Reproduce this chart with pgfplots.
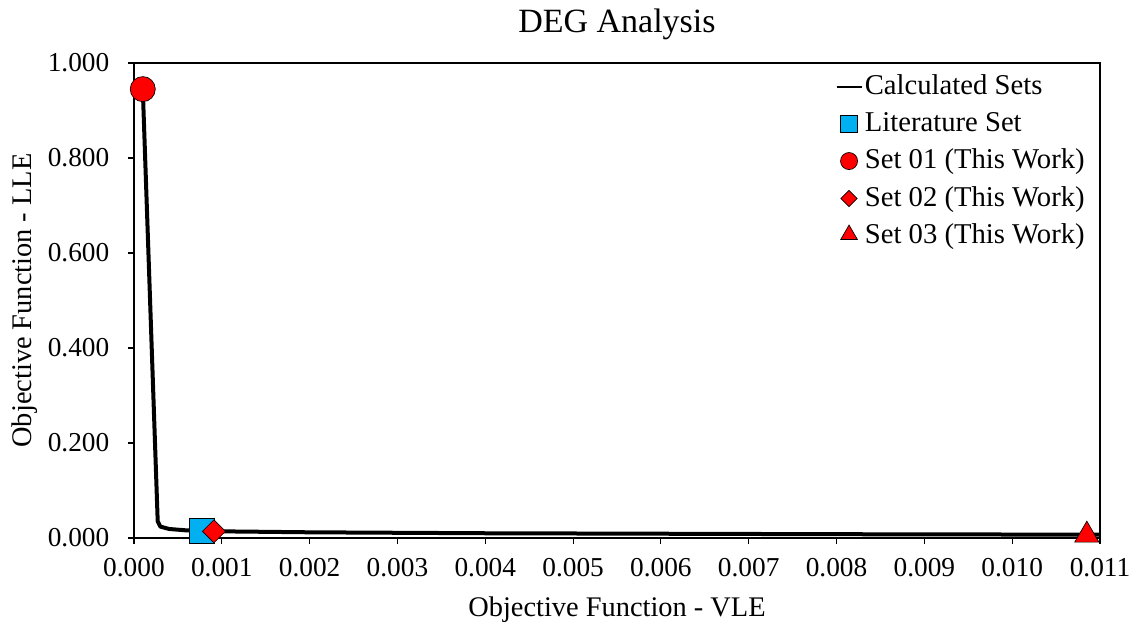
\documentclass[border=0pt]{standalone}
\usepackage{pgfplots}
\pgfplotsset{compat=1.18}
\usepackage{fontspec}
\setmainfont{Liberation Serif}
\definecolor{litblue}{HTML}{00B0F0}
\begin{document}
\fontsize{20.5}{24}\selectfont
\begin{tikzpicture}
\begin{axis}[
  name=ax,
  scale only axis,
  width=724.5pt, height=356.25pt,
  xmin=0, xmax=0.011, ymin=0, ymax=1.0,
  xtick={0,0.001,...,0.0115}, ytick={0,0.2,...,1.01},
  /pgf/number format/assume math mode=true,
  xticklabel style={/pgf/number format/.cd,fixed,fixed zerofill,precision=3, /tikz/.cd, yshift=-4pt, font=\fontsize{20.5}{24}\selectfont},
  yticklabel style={/pgf/number format/.cd,fixed,fixed zerofill,precision=3, /tikz/.cd, xshift=-7pt, font=\fontsize{20.5}{24}\selectfont},
  scaled x ticks=false, scaled y ticks=false,
  tick align=outside, xtick pos=left, ytick pos=left,
  major tick length=4.5pt,
  axis line style={line width=0.8pt},
  every tick/.style={line width=0.8pt, black},
  title={DEG Analysis},
  title style={yshift=4pt, font=\fontsize{25.5}{30}\selectfont},
  xlabel={Objective Function - VLE},
  ylabel={Objective Function - LLE},
  xlabel style={yshift=-1pt, font=\fontsize{21.3}{25}\selectfont},
  ylabel style={yshift=-6pt, font=\fontsize{21.3}{25}\selectfont},
  legend style={draw=none, fill=none, at={(0.9865,0.978)}, anchor=north east, row sep=8.1pt, font=\fontsize{21.5}{25}\selectfont, inner sep=0pt, nodes={inner xsep=1.5pt, inner ysep=1pt}},
  legend cell align=left,
  clip=false,
]
\addplot[black, line width=3pt, line join=round, mark=none,
  legend image code/.code={\draw[black,line width=2pt] (0pt,0pt) -- (18.75pt,0pt);}]
  coordinates {
  (0.00010,0.945) (0.00027,0.035) (0.00030,0.024) (0.00040,0.019)
  (0.00060,0.016) (0.00100,0.014) (0.00200,0.012) (0.00400,0.010) (0.00600,0.009)
  (0.00800,0.008) (0.01100,0.007)
  };
\addlegendentry{Calculated Sets}
\addplot[only marks, mark=square*, mark size=9.4pt, mark options={fill=litblue, draw=black, line width=0.5pt},
  legend image code/.code={\draw[mark=square*, mark size=6.2pt, mark options={fill=litblue, draw=black, line width=0.5pt}] plot coordinates {(9.4pt,0pt)};}]
  coordinates {(0.00077,0.016)};
\addlegendentry{Literature Set}
\addplot[only marks, mark=*, mark size=9.4pt, mark options={fill=red, draw=black, line width=0.5pt},
  legend image code/.code={\draw[mark=*, mark size=6.4pt, mark options={fill=red, draw=black, line width=0.5pt}] plot coordinates {(9.4pt,0pt)};}]
  coordinates {(0.00010,0.945)};
\addlegendentry{Set 01 (This Work)}
\addplot[only marks, mark=square*, mark size=6.1pt, mark options={fill=red, draw=black, line width=0.5pt, rotate=45},
  legend image code/.code={\draw[mark=square*, mark size=4.3pt, mark options={fill=red, draw=black, line width=0.5pt, rotate=45}] plot coordinates {(9.4pt,0pt)};}]
  coordinates {(0.00091,0.014)};
\addlegendentry{Set 02 (This Work)}
\addplot[only marks, mark=triangle*, mark size=10.5pt, mark options={fill=red, draw=black, line width=0.5pt},
  legend image code/.code={\draw[mark=triangle*, mark size=7.2pt, mark options={fill=red, draw=black, line width=0.5pt}] plot coordinates {(9.4pt,1pt)};}]
  coordinates {(0.01085,0.006)};
\addlegendentry{Set 03 (This Work)}
\end{axis}
\pgfresetboundingbox
\path (ax.south west) ++(-100.5pt,-67.5pt) coordinate (bl);
\path (ax.north east) ++(27.75pt,47.25pt) coordinate (tr);
\path[use as bounding box] (bl) rectangle (tr);
\end{tikzpicture}
\end{document}
